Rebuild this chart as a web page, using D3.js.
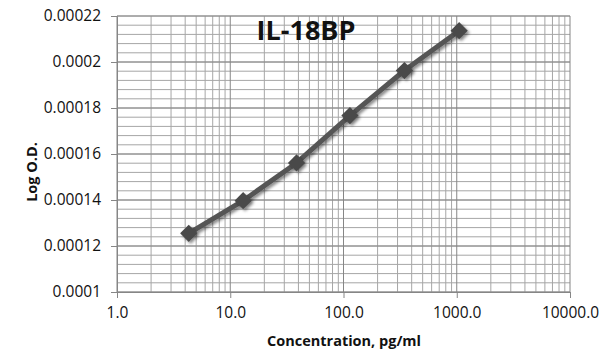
<!DOCTYPE html>
<html>
<head>
<meta charset="utf-8">
<script src="https://cdn.jsdelivr.net/npm/d3@7"></script>
<style>
  body { margin: 0; background: #fff; }
  text { font-family: "Open Sans", sans-serif; fill: #111; }
</style>
</head>
<body>
<div class="canva"></div>
<script>
// standard curve values
const concentration = [4.3, 13.0, 38.5, 114, 345, 1050];
const logOD = [0.0001255, 0.0001397, 0.0001561, 0.0001767, 0.0001963, 0.0002136];

const xTicks = [1, 10, 100, 1000, 10000];
const yTicks = [0.0001, 0.00012, 0.00014, 0.00016, 0.00018, 0.0002, 0.00022];
const yTickLabels = ["0.0001", "0.00012", "0.00014", "0.00016", "0.00018", "0.0002", "0.00022"];

const margin = {top: 16, left: 117, right: 45, bottom: 72};
const W = 615, H = 364;
const w = W - margin.left - margin.right;
const h = H - margin.top - margin.bottom;

const svg = d3.select(".canva").append("svg")
            .attr("width", W)
            .attr("height", H);

const defs = svg.append("defs");
const f = defs.append("filter").attr("id", "shadow")
            .attr("x", "-50%").attr("y", "-50%").attr("width", "200%").attr("height", "200%");
f.append("feDropShadow")
    .attr("dx", 2).attr("dy", 2).attr("stdDeviation", 1.5)
    .attr("flood-color", "#000").attr("flood-opacity", 0.45);

const g = svg.append("g").attr("transform", `translate(${margin.left},${margin.top})`);

const x = d3.scaleLog().domain([1, 10000]).range([0, w]);
const y = d3.scaleLinear().domain([0.0001, 0.00022]).range([h, 0]);

// minor grid
const xMinor = [];
for (let dec = 1; dec < 10000; dec *= 10)
    for (let k = 2; k <= 9; k++) xMinor.push(dec * k);
const yMinor = d3.range(0, 31).map(i => 0.0001 + i * 0.000004);

g.selectAll(".vminor").data(xMinor).enter().append("line")
    .attr("x1", d => x(d)).attr("x2", d => x(d))
    .attr("y1", 0).attr("y2", h)
    .attr("stroke", "#a6a6a6").attr("stroke-width", 1);

g.selectAll(".hminor").data(yMinor).enter().append("line")
    .attr("x1", 0).attr("x2", w)
    .attr("y1", d => y(d)).attr("y2", d => y(d))
    .attr("stroke", "#a6a6a6").attr("stroke-width", 1);

// major grid
g.selectAll(".vmajor").data(xTicks).enter().append("line")
    .attr("x1", d => x(d)).attr("x2", d => x(d))
    .attr("y1", 0).attr("y2", h)
    .attr("stroke", "#868686").attr("stroke-width", 1);

g.selectAll(".hmajor").data(yTicks).enter().append("line")
    .attr("x1", 0).attr("x2", w)
    .attr("y1", d => y(d)).attr("y2", d => y(d))
    .attr("stroke", "#868686").attr("stroke-width", 1);

// axes
const xAxis = d3.axisBottom(x).tickValues(xTicks).tickFormat(d3.format(".1f")).tickSize(6).tickPadding(9);
const yAxis = d3.axisLeft(y).tickValues(yTicks).tickFormat((d, i) => yTickLabels[i]).tickSize(6).tickPadding(10);

const gx = g.append("g").attr("transform", `translate(0,${h})`).call(xAxis);
const gy = g.append("g").call(yAxis);
[gx, gy].forEach(a => {
    a.select(".domain").attr("stroke", "#868686");
    a.selectAll(".tick line").attr("stroke", "#868686");
    a.selectAll(".tick text").attr("font-size", 15.5).attr("font-family", "Open Sans").attr("fill", "#111");
});

// line + markers
const pts = concentration.map((c, i) => [c, logOD[i]]);
const line = d3.line().x(d => x(d[0])).y(d => y(d[1]));

g.append("path").datum(pts)
    .attr("d", line)
    .attr("fill", "none")
    .attr("stroke", "#555")
    .attr("stroke-width", 5)
    .attr("stroke-linejoin", "round")
    .attr("filter", "url(#shadow)");

g.selectAll(".mk").data(pts).enter().append("path")
    .attr("d", d3.symbol().type(d3.symbolDiamond2).size(190))
    .attr("transform", d => `translate(${x(d[0])},${y(d[1])})`)
    .attr("fill", "#4a4a4a")
    .attr("filter", "url(#shadow)");

// titles
svg.append("text").attr("x", 306).attr("y", 40)
    .attr("text-anchor", "middle").attr("font-size", 27).attr("font-weight", "bold")
    .text("IL-18BP");

svg.append("text").attr("x", 344).attr("y", 346)
    .attr("text-anchor", "middle").attr("font-size", 14.5).attr("font-weight", "bold")
    .text("Concentration, pg/ml");

svg.append("text").attr("transform", "translate(37,172) rotate(-90)")
    .attr("text-anchor", "middle").attr("font-size", 14.5).attr("font-weight", "bold")
    .text("Log O.D.");
</script>
</body>
</html>
